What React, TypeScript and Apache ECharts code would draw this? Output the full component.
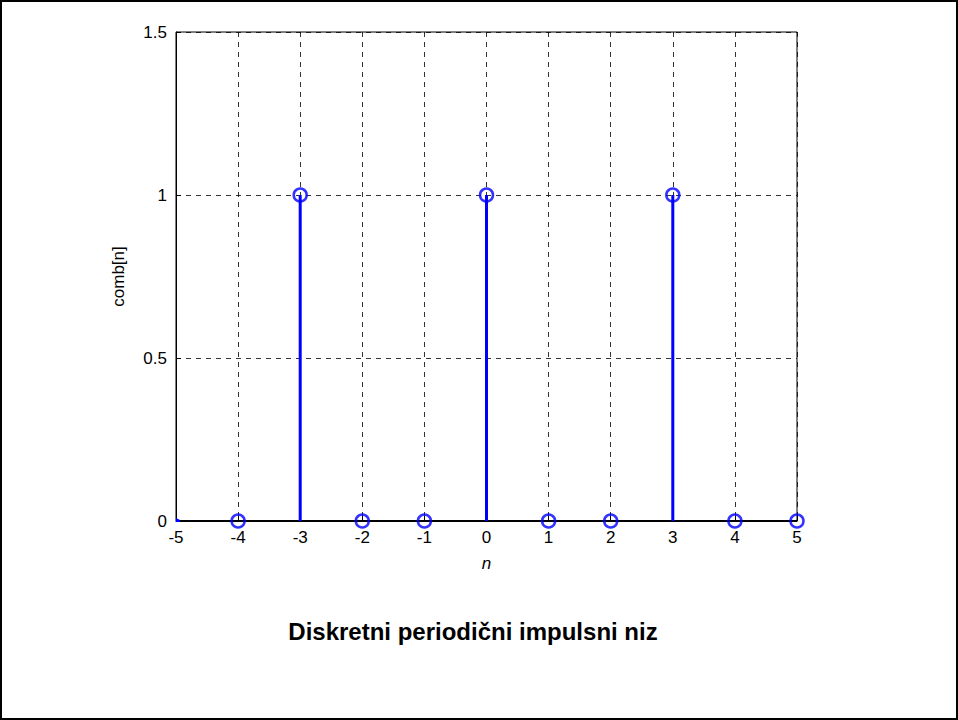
import React, { useEffect, useRef } from "react";
import * as echarts from "echarts";

const nValues = [-5, -4, -3, -2, -1, 0, 1, 2, 3, 4, 5];
const combValues = [0, 0, 1, 0, 0, 1, 0, 0, 1, 0, 0];
const xTicks = [-5, -4, -3, -2, -1, 0, 1, 2, 3, 4, 5];
const yTicks = [0, 0.5, 1, 1.5];
const titleText = "Diskretni periodični impulsni niz";
const xName = "n";
const yName = "comb[n]";

const BLUE = "#0000ff";
const FONT = "'Liberation Sans', Arial, Helvetica, sans-serif";

export default function App() {
  const ref = useRef<HTMLDivElement>(null);
  useEffect(() => {
    document.body.style.margin = "0";
    const chart = echarts.init(ref.current!, undefined, { renderer: "svg" });
    const points = nValues.map((n, i) => [n, combValues[i]]);
    const visible = points.filter((p) => p[0] > xTicks[0]);
    const clipped = points.filter((p) => p[0] === xTicks[0]);
    chart.setOption({
      animation: false,
      backgroundColor: "#ffffff",
      textStyle: { fontFamily: FONT },
      grid: {
        left: 176,
        top: 32,
        width: 621,
        height: 489,
        show: true,
        borderColor: "#000",
        borderWidth: 1,
        backgroundColor: "transparent",
      },
      xAxis: {
        type: "value",
        min: xTicks[0],
        max: xTicks[xTicks.length - 1],
        interval: 1,
        name: xName,
        nameLocation: "middle",
        nameGap: 34,
        nameTextStyle: { fontStyle: "italic", fontSize: 17, color: "#000", fontFamily: FONT },
        axisLine: { show: true, onZero: false, lineStyle: { color: "#000", width: 1 } },
        axisTick: { show: true, inside: true, length: 5, lineStyle: { color: "#000" } },
        axisLabel: { color: "#000", fontSize: 17, margin: 8, fontFamily: FONT },
        splitLine: { show: true, lineStyle: { color: "#000", type: [5, 5], width: 1, opacity: 0.8 } },
      },
      yAxis: {
        type: "value",
        min: yTicks[0],
        max: yTicks[yTicks.length - 1],
        interval: 0.5,
        name: yName,
        nameLocation: "middle",
        nameGap: 49,
        nameRotate: 90,
        nameTextStyle: { fontSize: 17, color: "#000", fontFamily: FONT, padding: [0, 0, 0, 0] },
        axisLine: { show: true, onZero: false, lineStyle: { color: "#000", width: 1 } },
        axisTick: { show: true, inside: true, length: 5, lineStyle: { color: "#000" } },
        axisLabel: { color: "#000", fontSize: 17, margin: 9, fontFamily: FONT },
        splitLine: { show: true, lineStyle: { color: "#000", type: [5, 5], width: 1, opacity: 0.8 } },
      },
      series: [
        {
          type: "line",
          data: [
            [xTicks[0], 0],
            [xTicks[xTicks.length - 1], 0],
          ],
          symbol: "none",
          lineStyle: { color: "#000", width: 2 },
          z: 3,
          silent: true,
        },
        {
          type: "custom",
          data: visible,
          z: 4,
          renderItem: (params: any, api: any) => {
            const x = api.value(0);
            const y = api.value(1);
            const p0 = api.coord([x, 0]);
            const p1 = api.coord([x, y]);
            return {
              type: "line",
              shape: { x1: p0[0], y1: p0[1], x2: p1[0], y2: p1[1] },
              style: { stroke: BLUE, lineWidth: 3 },
            };
          },
        },
        {
          type: "scatter",
          data: visible,
          symbol: "circle",
          symbolSize: 13,
          itemStyle: { color: "rgba(0,0,0,0)", borderColor: BLUE, borderWidth: 2.5 },
          z: 5,
          silent: true,
        },
        {
          type: "custom",
          data: clipped,
          z: 5,
          renderItem: (params: any, api: any) => {
            const p = api.coord([api.value(0), api.value(1)]);
            return {
              type: "polygon",
              shape: {
                points: [
                  [p[0], p[1] + 1],
                  [p[0] + 4, p[1] + 1],
                  [p[0] + 4, p[1] - 1],
                  [p[0], p[1] - 3],
                ],
              },
              style: { fill: BLUE },
            };
          },
        },
      ],
      graphic: [
        {
          type: "rect",
          shape: { x: 1, y: 1, width: 956, height: 718 },
          style: { fill: "none", stroke: "#000", lineWidth: 2 },
          silent: true,
        },
        {
          type: "text",
          x: 473,
          y: 631,
          style: {
            text: titleText,
            fontSize: 24,
            fontWeight: "bold",
            fontFamily: FONT,
            fill: "#000",
            align: "center",
            verticalAlign: "middle",
          },
        },
      ],
    });
    return () => chart.dispose();
  }, []);
  return (
    <div
      ref={ref}
      style={{ position: "absolute", left: 0, top: 0, width: 958, height: 720 }}
    />
  );
}
